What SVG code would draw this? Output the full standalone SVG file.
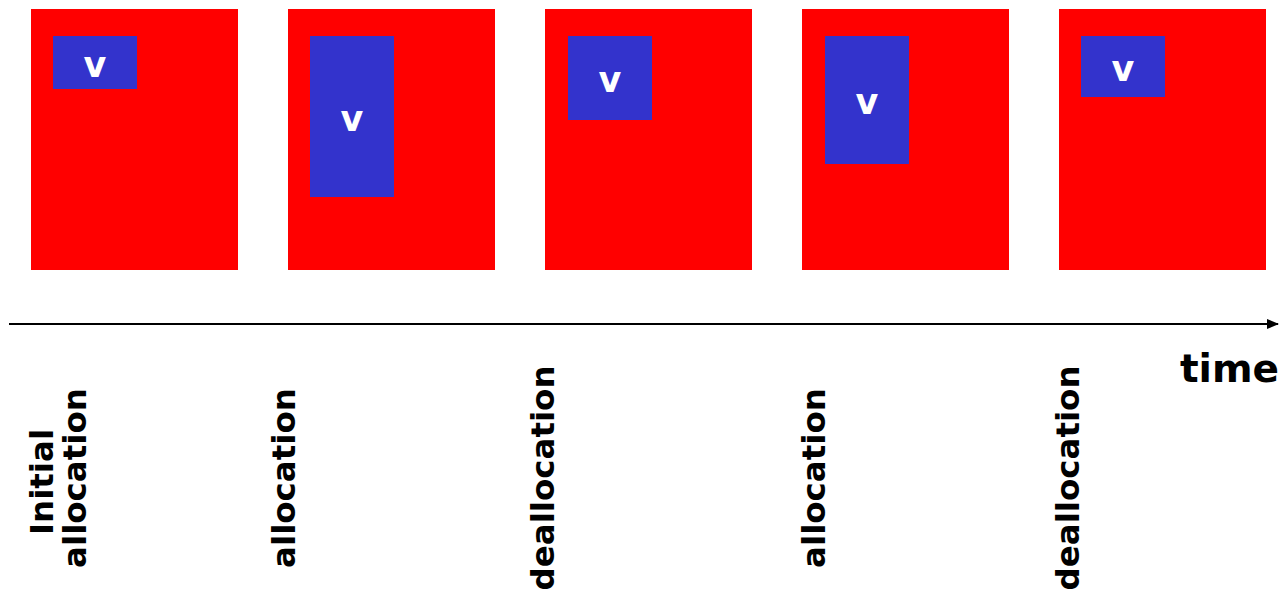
<svg xmlns="http://www.w3.org/2000/svg" width="1287" height="591" viewBox="0 0 1287 591">
<style>
.heap{fill:#FF0000}
.v{fill:#3333CC}
.vt{fill:#FFFFFF;font-family:"DejaVu Sans",Verdana,sans-serif;font-weight:bold;font-size:35px;text-anchor:middle}
.lbl{fill:#000000;font-family:"DejaVu Sans",Verdana,sans-serif;font-weight:bold;font-size:32.5px;text-anchor:middle}
</style>
<defs>
<marker id="ah" markerWidth="12" markerHeight="10" refX="11" refY="5" orient="auto" markerUnits="userSpaceOnUse">
<path d="M0,0 L12,5 L0,10 Z" fill="#000"/>
</marker>
</defs>
<g id="state1">
<rect class="heap" x="31" y="9" width="207" height="261"/>
<rect class="v" x="53" y="36" width="84" height="53"/>
<text class="vt" x="95" y="77">v</text>
</g>
<g id="state2">
<rect class="heap" x="288" y="9" width="207" height="261"/>
<rect class="v" x="310" y="36" width="84" height="161"/>
<text class="vt" x="352" y="131">v</text>
</g>
<g id="state3">
<rect class="heap" x="545" y="9" width="207" height="261"/>
<rect class="v" x="568" y="36" width="84" height="84"/>
<text class="vt" x="610" y="92">v</text>
</g>
<g id="state4">
<rect class="heap" x="802" y="9" width="207" height="261"/>
<rect class="v" x="825" y="36" width="84" height="128"/>
<text class="vt" x="867" y="114">v</text>
</g>
<g id="state5">
<rect class="heap" x="1059" y="9" width="207" height="261"/>
<rect class="v" x="1081" y="36" width="84" height="61"/>
<text class="vt" x="1123" y="81">v</text>
</g>
<g id="connectors">
<line x1="9" y1="324" x2="1278" y2="324" stroke="#000" stroke-width="2" marker-end="url(#ah)"/>
</g>
<g id="time">
<text x="1279" y="382" style="fill:#000;font-family:'DejaVu Sans',Verdana,sans-serif;font-weight:bold;font-size:39px;text-anchor:end">time</text>
</g>
<g id="labels">
<text class="lbl" transform="translate(53,482) rotate(-90)">Initial</text>
<text class="lbl" transform="translate(86,478) rotate(-90)">allocation</text>
<text class="lbl" transform="translate(295,478) rotate(-90)">allocation</text>
<text class="lbl" transform="translate(554,478) rotate(-90)">deallocation</text>
<text class="lbl" transform="translate(825,478) rotate(-90)">allocation</text>
<text class="lbl" transform="translate(1079,478) rotate(-90)">deallocation</text>
</g>
</svg>
